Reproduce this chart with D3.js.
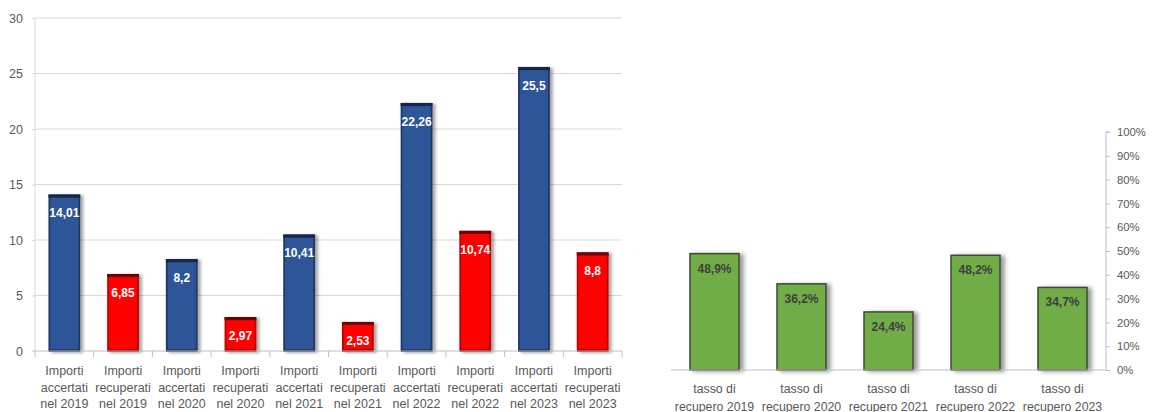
<!DOCTYPE html>
<html>
<head>
<meta charset="utf-8">
<script src="https://cdn.jsdelivr.net/npm/d3@7"></script>
<style>
  html, body { margin: 0; padding: 0; background: #fff; }
  svg { display: block; font-family: "Liberation Sans", Arial, sans-serif; }
</style>
</head>
<body>
<svg id="chart" width="1153" height="412"></svg>
<script>
// Importi accertati / recuperati (milioni) per anno
const amountCategories = [
  "Importi\naccertati\nnel 2019", "Importi\nrecuperati\nnel 2019",
  "Importi\naccertati\nnel 2020", "Importi\nrecuperati\nnel 2020",
  "Importi\naccertati\nnel 2021", "Importi\nrecuperati\nnel 2021",
  "Importi\naccertati\nnel 2022", "Importi\nrecuperati\nnel 2022",
  "Importi\naccertati\nnel 2023", "Importi\nrecuperati\nnel 2023"
];
const amountValues = [14.01, 6.85, 8.2, 2.97, 10.41, 2.53, 22.26, 10.74, 25.5, 8.8];
const amountKinds = ["accertati", "recuperati", "accertati", "recuperati", "accertati",
                     "recuperati", "accertati", "recuperati", "accertati", "recuperati"];
const amountTicks = [0, 5, 10, 15, 20, 25, 30];

// Tasso di recupero per anno (%)
const rateCategories = ["tasso di\nrecupero 2019", "tasso di\nrecupero 2020", "tasso di\nrecupero 2021",
                        "tasso di\nrecupero 2022", "tasso di\nrecupero 2023"];
const rateValues = [48.9, 36.2, 24.4, 48.2, 34.7];
const rateTicks = [0, 10, 20, 30, 40, 50, 60, 70, 80, 90, 100];

const svg = d3.select("#chart");
const textGray = "#595959";
const comma = v => String(v).replace(".", ",");

// soft drop shadows behind the columns
const defs = svg.append("defs");
function shadow(id, dx, sd, op) {
  const f = defs.append("filter").attr("id", id)
    .attr("x", "-30%").attr("y", "-10%").attr("width", "170%").attr("height", "120%");
  f.append("feDropShadow").attr("dx", dx).attr("dy", 1).attr("stdDeviation", sd)
    .attr("flood-color", "#000").attr("flood-opacity", op);
}
shadow("shLeft", 3, 1.6, 0.35);
shadow("shRight", 4, 2.2, 0.4);

function multiline(sel, lines, lh) {
  lines.forEach((l, i) => sel.append("tspan").attr("x", 0).attr("dy", i === 0 ? 0 : lh).text(l));
}

// ---------- left chart: amounts ----------
{
  const x0 = 35, x1 = 622, yTop = 18, yBot = 351;
  const x = d3.scaleBand().domain(amountCategories).range([x0, x1]).paddingInner(0).paddingOuter(0);
  const y = d3.scaleLinear().domain([0, 30]).range([yBot, yTop]);
  const g = svg.append("g");

  // horizontal gridlines
  g.append("g").selectAll("line").data(amountTicks.filter(t => t > 0)).join("line")
    .attr("x1", x0).attr("x2", x1).attr("y1", d => y(d)).attr("y2", d => y(d))
    .attr("stroke", "#d9d9d9").attr("stroke-width", 1);

  // y axis
  const ya = g.append("g").attr("transform", `translate(${x0},0)`)
    .call(d3.axisLeft(y).tickValues(amountTicks).tickSize(3).tickPadding(9).tickFormat(d => d));
  ya.select(".domain").attr("stroke", "#d9d9d9").attr("d", `M-3,${yBot}H0V${yTop}`);
  ya.selectAll(".tick line").attr("stroke", "#d9d9d9");
  ya.selectAll(".tick text").attr("fill", textGray).attr("font-size", 12.5)
    .attr("font-family", "Liberation Sans, Arial, sans-serif");

  // bars
  const bw = 30;
  const colors = {
    accertati: { fill: "#2f5597", edge: "#1f3864", cap: "#15264a" },
    recuperati: { fill: "#ff0000", edge: "#c00000", cap: "#6e0000" }
  };
  const bars = g.append("g").selectAll("g").data(amountValues).join("g")
    .attr("filter", "url(#shLeft)");
  bars.append("rect")
    .attr("x", (d, i) => x(amountCategories[i]) + x.bandwidth() / 2 - bw / 2)
    .attr("y", d => y(d)).attr("width", bw).attr("height", d => yBot - y(d))
    .attr("fill", (d, i) => colors[amountKinds[i]].fill)
    .attr("stroke", (d, i) => colors[amountKinds[i]].edge).attr("stroke-width", 1.8);
  bars.append("rect")
    .attr("x", (d, i) => x(amountCategories[i]) + x.bandwidth() / 2 - bw / 2 - 0.9)
    .attr("y", d => y(d) - 1).attr("width", bw + 1.8).attr("height", 3.2)
    .attr("fill", (d, i) => colors[amountKinds[i]].cap);
  bars.append("rect")
    .attr("x", (d, i) => x(amountCategories[i]) + x.bandwidth() / 2 - bw / 2)
    .attr("y", yBot - 1.5).attr("width", bw).attr("height", 1.5)
    .attr("fill", (d, i) => colors[amountKinds[i]].cap);

  // x axis
  const xa = g.append("g").attr("transform", `translate(0,${yBot})`);
  xa.append("line").attr("x1", x0).attr("x2", x1).attr("stroke", "#bfbfbf");
  xa.selectAll("line.tk").data(d3.range(amountCategories.length + 1)).join("line")
    .attr("class", "tk").attr("x1", i => x0 + i * x.step()).attr("x2", i => x0 + i * x.step())
    .attr("y1", 0).attr("y2", 6).attr("stroke", "#bfbfbf");
  xa.selectAll("text").data(amountCategories).join("text")
    .attr("transform", d => `translate(${x(d) + x.bandwidth() / 2},24)`)
    .attr("text-anchor", "middle").attr("fill", textGray).attr("font-size", 12.5)
    .each(function (d) { multiline(d3.select(this), d.split("\n"), 16.7); });

  // value labels
  g.append("g").selectAll("text").data(amountValues).join("text")
    .attr("x", (d, i) => x(amountCategories[i]) + x.bandwidth() / 2)
    .attr("y", d => y(d) + 22)
    .attr("text-anchor", "middle").attr("fill", "#fff").attr("font-weight", "bold")
    .attr("font-size", 12).text(d => comma(d));
}

// ---------- right chart: recovery rate ----------
{
  const x0 = 671, x1 = 1106, yTop = 132, yBot = 370;
  const x = d3.scaleBand().domain(rateCategories).range([x0, x1]);
  const y = d3.scaleLinear().domain([0, 100]).range([yBot, yTop]);
  const g = svg.append("g");

  const bw = 49;
  g.append("g").selectAll("rect").data(rateValues).join("rect")
    .attr("x", (d, i) => x(rateCategories[i]) + x.bandwidth() / 2 - bw / 2)
    .attr("y", d => y(d)).attr("width", bw).attr("height", d => yBot - y(d))
    .attr("fill", "#70ad47").attr("stroke", "#3f4a36").attr("stroke-width", 1.5)
    .attr("filter", "url(#shRight)");

  // baseline
  g.append("line").attr("x1", x0).attr("x2", x1).attr("y1", yBot).attr("y2", yBot)
    .attr("stroke", "#bfbfbf");

  // right axis
  const ya = g.append("g").attr("transform", `translate(${x1},0)`)
    .call(d3.axisRight(y).tickValues(rateTicks).tickSize(4).tickPadding(7).tickFormat(d => d + "%"));
  ya.select(".domain").attr("stroke", "#bfbfbf").attr("d", `M0,${yBot}V${yTop}H4`);
  ya.selectAll(".tick line").attr("stroke", "#bfbfbf");
  ya.selectAll(".tick text").attr("fill", textGray).attr("font-size", 11.3)
    .attr("font-family", "Liberation Sans, Arial, sans-serif");

  // category labels
  g.append("g").selectAll("text").data(rateCategories).join("text")
    .attr("transform", d => `translate(${x(d) + x.bandwidth() / 2},${yBot + 23})`)
    .attr("text-anchor", "middle").attr("fill", textGray).attr("font-size", 12.3)
    .each(function (d) { multiline(d3.select(this), d.split("\n"), 17.5); });

  // value labels
  g.append("g").selectAll("text").data(rateValues).join("text")
    .attr("x", (d, i) => x(rateCategories[i]) + x.bandwidth() / 2)
    .attr("y", d => y(d) + 19)
    .attr("text-anchor", "middle").attr("fill", "#404040").attr("font-weight", "bold")
    .attr("font-size", 12).text(d => comma(d) + "%");
}
</script>
</body>
</html>
